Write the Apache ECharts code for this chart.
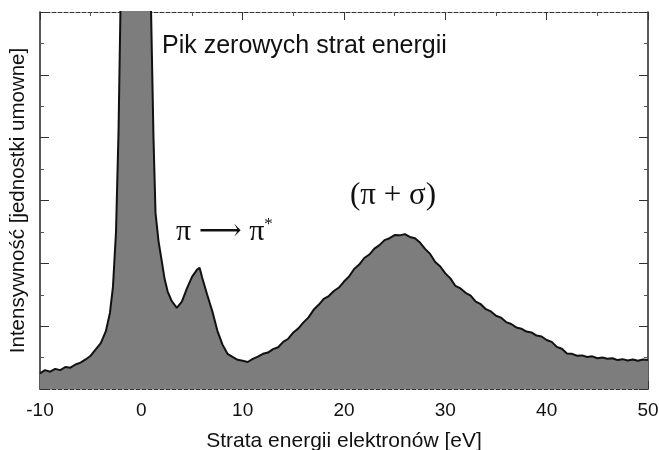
<!DOCTYPE html>
<html><head><meta charset="utf-8">
<script src="https://cdn.jsdelivr.net/npm/echarts@6/dist/echarts.min.js"></script>
<style>html,body{margin:0;padding:0;background:#fff}#c{width:659px;height:450px}</style>
</head><body><div id="c"></div>
<script>
// Energy loss (eV) and intensity (arbitrary units)
const energy = [-10,-9.5,-9,-8.5,-8,-7.5,-7,-6.5,-6,-5.5,-5,-4.5,-4,-3.5,-3.1,-2.8,-2.5,-2.25,-2.05,-1.5,-1,-0.5,0,0.5,0.95,1.2,1.4,1.7,2,2.3,2.6,3,3.5,4,4.5,5,5.5,5.75,6,6.5,7,7.5,8,8.5,9,9.5,10,10.5,11,11.5,12,12.5,13,13.5,14,14.5,15,15.5,16,16.5,17,17.5,18,18.5,19,19.5,20,20.5,21,21.5,22,22.5,23,23.5,24,24.5,25,25.5,26,26.5,27,27.5,28,28.5,29,29.5,30,30.5,31,31.5,32,32.5,33,33.5,34,34.5,35,35.5,36,36.5,37,37.5,38,38.5,39,39.5,40,40.5,41,41.5,42,42.5,43,43.5,44,44.5,45,45.5,46,46.5,47,47.5,48,48.5,49,49.5,50];
const intensity = [0.50,0.60,0.55,0.64,0.60,0.70,0.68,0.78,0.84,0.94,1.06,1.26,1.46,1.84,2.42,3.25,5.0,8.2,12.3,18,20,21,20,17,12.2,8.0,5.6,4.7,4.1,3.5,3.1,2.8,2.58,2.78,3.2,3.57,3.80,3.86,3.55,3.0,2.48,1.86,1.42,1.12,1.02,0.93,0.90,0.86,0.96,1.03,1.12,1.16,1.27,1.33,1.50,1.60,1.80,1.93,2.12,2.28,2.52,2.68,2.87,2.96,3.12,3.23,3.42,3.58,3.82,3.96,4.17,4.28,4.47,4.58,4.74,4.80,4.90,4.89,4.93,4.84,4.80,4.66,4.46,4.30,4.04,3.90,3.68,3.52,3.28,3.20,3.06,2.97,2.78,2.70,2.54,2.47,2.33,2.27,2.13,2.07,1.96,1.92,1.83,1.80,1.70,1.67,1.56,1.50,1.34,1.28,1.13,1.12,1.06,1.07,1.02,1.04,0.98,1.00,0.96,0.98,0.92,0.95,0.91,0.94,0.90,0.94,0.92];
const xTicks = [-10, 0, 10, 20, 30, 40, 50];
const xName = 'Strata energii elektronów [eV]';
const yName = 'Intensywność [jednostki umowne]';
const peakLabel = 'Pik zerowych strat energii';
const piLabel = 'π ⟶ π';
const sigmaLabel = '(π + σ)';

const chart = echarts.init(document.getElementById('c'));
const dashed = {show:true, onZero:false, lineStyle:{color:'#333', width:1.2, type:[4,2]}};
const solid = {show:true, onZero:false, lineStyle:{color:'#222', width:1.5}};
const tickX = {show:true, inside:true, length:8, lineStyle:{color:'#333', width:1}};
const minorX = {show:true, splitNumber:2, length:4, lineStyle:{color:'#555', width:1}};
const sans = 'Liberation Sans, Arial';
const serif = 'Liberation Serif, DejaVu Serif, Times New Roman';
chart.setOption({
  animation:false,
  grid:{left:40, right:11, top:12, bottom:61, containLabel:false, outerBoundsMode:'none'},
  xAxis:[{
    type:'value', min:-10, max:50, interval:10, position:'bottom',
    axisLine:dashed, axisTick:tickX, minorTick:minorX, splitLine:{show:false},
    axisLabel:{show:true, margin:12, fontSize:19, color:'#111', fontFamily:sans,
      formatter:v=> xTicks.includes(v) ? String(v) : ''},
    name:xName, nameLocation:'middle', nameGap:42,
    nameTextStyle:{fontSize:21, color:'#111', fontFamily:sans}
  },{
    type:'value', min:-10, max:50, interval:10, position:'top',
    axisLine:dashed, axisTick:tickX, minorTick:minorX, splitLine:{show:false},
    axisLabel:{show:false}
  }],
  yAxis:[{
    type:'value', min:0, max:12, interval:2, position:'left',
    axisLine:solid, axisTick:{show:true, inside:true, length:9, lineStyle:{color:'#333'}},
    minorTick:{show:true, splitNumber:2, length:4, lineStyle:{color:'#555'}},
    splitLine:{show:false}, axisLabel:{show:false},
    name:yName, nameLocation:'middle', nameGap:11,
    nameTextStyle:{fontSize:20.5, color:'#111', fontFamily:sans}
  },{
    type:'value', min:0, max:12, interval:2, position:'right',
    axisLine:solid, axisTick:{show:true, inside:true, length:9, lineStyle:{color:'#333'}},
    minorTick:{show:true, splitNumber:2, length:4, lineStyle:{color:'#555'}},
    splitLine:{show:false}, axisLabel:{show:false}
  }],
  series:[{
    type:'line', xAxisIndex:0, yAxisIndex:0, symbol:'none', clip:true,
    data: energy.map((e,i)=>[e, intensity[i]]),
    lineStyle:{color:'#111', width:2},
    areaStyle:{color:'#7d7d7d', opacity:1}
  }],
  graphic:[
    {type:'text', left:162, top:34, style:{text:peakLabel, fontSize:25, fill:'#111', fontFamily:sans}},
    {type:'text', left:350, top:180, style:{text:sigmaLabel, fontSize:31, fill:'#111', fontFamily:serif}},
    {type:'text', left:176, top:216, style:{
      rich:{a:{fontSize:30, fontFamily:serif, fill:'#111'},
            s:{fontSize:17, fontFamily:serif, fill:'#111', verticalAlign:'top', padding:[0,0,16,0]}},
      text:'{a|'+piLabel+'}{s|*}'}}
  ]
});
</script></body></html>
